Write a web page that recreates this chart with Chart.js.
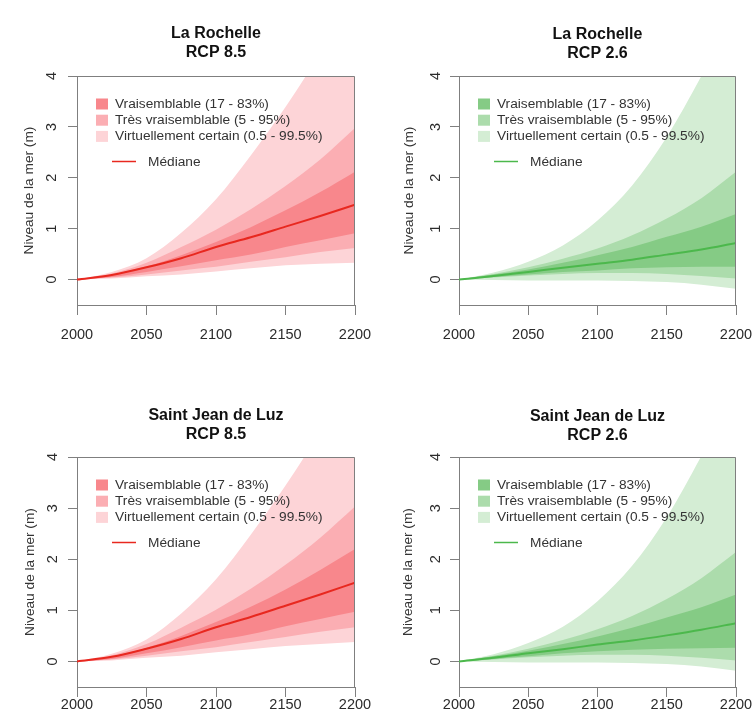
<!DOCTYPE html>
<html lang="fr">
<head>
<meta charset="UTF-8">
<title>Niveau de la mer - La Rochelle / Saint Jean de Luz</title>
<script src="https://cdn.jsdelivr.net/npm/chart.js"></script>
<style>
  body { margin: 0; background: #fff; }
  .panel { position: absolute; width: 376px; height: 360px; }
</style>
</head>
<body>
<div class="panel" style="left:0;top:0"><canvas id="c1" width="376" height="360"></canvas></div>
<div class="panel" style="left:376px;top:0"><canvas id="c2" width="376" height="360"></canvas></div>
<div class="panel" style="left:0;top:360px"><canvas id="c3" width="376" height="360"></canvas></div>
<div class="panel" style="left:376px;top:360px"><canvas id="c4" width="376" height="360"></canvas></div>
<script>
const years = [2000, 2025, 2050, 2075, 2100, 2125, 2150, 2175, 2200];
const xTicks = [2000, 2050, 2100, 2150, 2200];
const yTicks = [0, 1, 2, 3, 4];
const bandLabels = ['Vraisemblable (17 - 83%)', 'Très vraisemblable (5 - 95%)', 'Virtuellement certain (0.5 - 99.5%)'];
const medianLabel = 'Médiane';

// La Rochelle RCP 8.5
const lr85Median = [0, 0.09, 0.24, 0.42, 0.64, 0.83, 1.04, 1.25, 1.47];
const lr85DarkUp = [0, 0.10, 0.26, 0.48, 0.74, 1.03, 1.36, 1.72, 2.12];
const lr85DarkLo = [0, 0.05, 0.15, 0.26, 0.38, 0.49, 0.64, 0.77, 0.91];
const lr85MidUp = [0, 0.12, 0.33, 0.64, 0.98, 1.38, 1.84, 2.36, 2.98];
const lr85MidLo = [0, 0.04, 0.10, 0.18, 0.25, 0.35, 0.44, 0.54, 0.62];
const lr85LightUp = [0, 0.15, 0.42, 0.92, 1.58, 2.44, 3.39, 4.45, 5.6];
const lr85LightLo = [0, 0.02, 0.065, 0.10, 0.16, 0.22, 0.28, 0.31, 0.33];

// La Rochelle RCP 2.6
const lr26Median = [0, 0.07, 0.15, 0.23, 0.31, 0.39, 0.49, 0.59, 0.72];
const lr26DarkUp = [0, 0.10, 0.20, 0.33, 0.48, 0.64, 0.84, 1.04, 1.29];
const lr26DarkLo = [0, 0.05, 0.10, 0.15, 0.18, 0.22, 0.24, 0.25, 0.25];
const lr26MidUp = [0, 0.11, 0.24, 0.41, 0.61, 0.87, 1.20, 1.60, 2.12];
const lr26MidLo = [0, 0.04, 0.08, 0.11, 0.13, 0.13, 0.11, 0.07, 0.02];
const lr26LightUp = [0, 0.14, 0.35, 0.67, 1.16, 1.85, 2.8, 4.0, 5.3];
const lr26LightLo = [0, -0.01, -0.02, -0.02, -0.02, -0.03, -0.05, -0.10, -0.18];

// Saint Jean de Luz RCP 8.5
const sj85Median = [0, 0.09, 0.25, 0.44, 0.67, 0.87, 1.09, 1.31, 1.54];
const sj85DarkUp = [0, 0.10, 0.27, 0.50, 0.77, 1.07, 1.41, 1.79, 2.2];
const sj85DarkLo = [0, 0.05, 0.16, 0.28, 0.41, 0.53, 0.69, 0.83, 0.97];
const sj85MidUp = [0, 0.12, 0.34, 0.66, 1.01, 1.42, 1.89, 2.42, 3.03];
const sj85MidLo = [0, 0.04, 0.11, 0.20, 0.28, 0.38, 0.48, 0.58, 0.67];
const sj85LightUp = [0, 0.15, 0.43, 0.94, 1.61, 2.48, 3.44, 4.5, 5.65];
const sj85LightLo = [0, 0.02, 0.07, 0.11, 0.18, 0.24, 0.30, 0.34, 0.38];

// Saint Jean de Luz RCP 2.6
const sj26Median = [0, 0.07, 0.16, 0.24, 0.33, 0.41, 0.51, 0.62, 0.75];
const sj26DarkUp = [0, 0.10, 0.21, 0.34, 0.49, 0.66, 0.86, 1.06, 1.31];
const sj26DarkLo = [0, 0.05, 0.10, 0.16, 0.20, 0.23, 0.25, 0.26, 0.27];
const sj26MidUp = [0, 0.11, 0.25, 0.42, 0.63, 0.89, 1.22, 1.63, 2.14];
const sj26MidLo = [0, 0.04, 0.08, 0.11, 0.13, 0.13, 0.11, 0.07, 0.02];
const sj26LightUp = [0, 0.14, 0.36, 0.68, 1.18, 1.87, 2.82, 4.02, 5.3];
const sj26LightLo = [0, -0.01, -0.02, -0.02, -0.02, -0.03, -0.05, -0.10, -0.18];

const red = { median: '#e8281f', dark: '#f8878c', mid: '#fbaeb3', light: '#fdd4d7' };
const green = { median: '#4cb84c', dark: '#85cb85', mid: '#acdcac', light: '#d4edd4' };

const FONT = '"Liberation Sans", Arial, sans-serif';
const AXIS = '#7f7f7f';
const W = 376, H = 360;

function pts(arr) {
  return years.map((x, i) => ({ x: x, y: arr[i] }));
}

function band(label, arr, color, fillTo, order) {
  return {
    label: label, data: pts(arr), backgroundColor: color, borderWidth: 0,
    pointRadius: 0, cubicInterpolationMode: 'monotone', fill: fillTo, order: order
  };
}

// top and right sides of the box
const boxPlugin = {
  id: 'box',
  afterDatasetsDraw(chart) {
    const a = chart.chartArea, ctx = chart.ctx;
    const t = Math.round(a.top) + 0.5, r = Math.round(a.right) - 0.5;
    ctx.save();
    ctx.strokeStyle = AXIS;
    ctx.lineWidth = 1;
    ctx.beginPath();
    ctx.moveTo(a.left, t);
    ctx.lineTo(r, t);
    ctx.lineTo(r, a.bottom);
    ctx.stroke();
    ctx.restore();
  }
};

// legend drawn inside the plot, top-left
const legendPlugin = {
  id: 'innerLegend',
  afterDraw(chart) {
    const a = chart.chartArea, ctx = chart.ctx, ds = chart.data.datasets;
    ctx.save();
    ctx.font = '13.7px ' + FONT;
    ctx.textBaseline = 'middle';
    [1, 3, 5].forEach((idx, i) => {
      const cy = a.top + 28 + i * 16.2;
      ctx.fillStyle = ds[idx].backgroundColor;
      ctx.fillRect(a.left + 19, cy - 5.5, 12, 11);
      ctx.fillStyle = '#333';
      ctx.fillText(ds[idx].label, a.left + 38, cy);
    });
    const my = a.top + 85.5;
    ctx.strokeStyle = ds[0].borderColor;
    ctx.lineWidth = 1.5;
    ctx.beginPath();
    ctx.moveTo(a.left + 35, my);
    ctx.lineTo(a.left + 59, my);
    ctx.stroke();
    ctx.fillStyle = '#333';
    ctx.fillText(ds[0].label, a.left + 71, my + 0.5);
    ctx.restore();
  }
};

function makeChart(id, p) {
  const xh = H - p.B;
  const lh = 18.4;
  const titleTop = p.t1 - lh / 2;
  new Chart(document.getElementById(id), {
    type: 'line',
    data: {
      datasets: [
        { label: medianLabel, data: pts(p.median), borderColor: p.col.median, borderWidth: 2,
          pointRadius: 0, cubicInterpolationMode: 'monotone', fill: false, order: 0 },
        band(bandLabels[0], p.darkUp, p.col.dark, 2, 1),
        band(bandLabels[0] + ' bas', p.darkLo, p.col.dark, false, 1),
        band(bandLabels[1], p.midUp, p.col.mid, 4, 2),
        band(bandLabels[1] + ' bas', p.midLo, p.col.mid, false, 2),
        band(bandLabels[2], p.lightUp, p.col.light, 6, 3),
        band(bandLabels[2] + ' bas', p.lightLo, p.col.light, false, 3)
      ]
    },
    options: {
      responsive: false,
      animation: false,
      events: [],
      layout: { padding: { left: 0, top: 0, right: W - p.R, bottom: 0 } },
      plugins: {
        legend: { display: false },
        tooltip: { enabled: false },
        title: {
          display: true, text: p.title, color: '#111', fullSize: false,
          font: { family: FONT, size: 16, weight: 'bold', lineHeight: 1.15 },
          padding: { top: titleTop, bottom: p.T - titleTop - 2 * lh }
        }
      },
      scales: {
        x: {
          type: 'linear', min: 2000, max: 2200,
          afterBuildTicks: s => { s.ticks = xTicks.map(v => ({ value: v })); },
          afterFit: s => { s.height = xh; s.paddingLeft = 0; s.paddingRight = 0; },
          ticks: { autoSkip: false, maxRotation: 0, padding: p.xPad, color: '#2b2b2b',
                   font: { family: FONT, size: 14.5 }, callback: v => String(v) },
          grid: { drawOnChartArea: false, drawTicks: true, tickLength: 10, tickColor: AXIS },
          border: { display: true, color: AXIS, width: 1 }
        },
        y: {
          type: 'linear', min: -0.5, max: 4,
          afterBuildTicks: s => { s.ticks = yTicks.map(v => ({ value: v })); },
          afterFit: s => { s.width = p.L; s.paddingTop = 0; s.paddingBottom = 0; },
          ticks: { minRotation: 90, maxRotation: 90, crossAlign: 'center', padding: p.yPad,
                   color: '#2b2b2b', font: { family: FONT, size: 14.5 }, callback: v => String(v) },
          grid: { drawOnChartArea: false, drawTicks: true, tickLength: 9, tickColor: AXIS },
          border: { display: true, color: AXIS, width: 1 },
          title: { display: true, text: 'Niveau de la mer (m)', color: '#333',
                   font: { family: FONT, size: 13.7, lineHeight: 1.2 },
                   padding: { top: p.yTitleX - 8.2, bottom: 0 } }
        }
      }
    },
    plugins: [boxPlugin, legendPlugin]
  });
}

makeChart('c1', { title: ['La Rochelle', 'RCP 8.5'], col: red,
  median: lr85Median, darkUp: lr85DarkUp, darkLo: lr85DarkLo, midUp: lr85MidUp, midLo: lr85MidLo,
  lightUp: lr85LightUp, lightLo: lr85LightLo,
  L: 77, R: 355, T: 76, B: 305, t1: 34, xPad: 11.5, yPad: 12, yTitleX: 29 });

makeChart('c2', { title: ['La Rochelle', 'RCP 2.6'], col: green,
  median: lr26Median, darkUp: lr26DarkUp, darkLo: lr26DarkLo, midUp: lr26MidUp, midLo: lr26MidLo,
  lightUp: lr26LightUp, lightLo: lr26LightLo,
  L: 83, R: 360, T: 76, B: 305, t1: 34.7, xPad: 11.5, yPad: 10, yTitleX: 33 });

makeChart('c3', { title: ['Saint Jean de Luz', 'RCP 8.5'], col: red,
  median: sj85Median, darkUp: sj85DarkUp, darkLo: sj85DarkLo, midUp: sj85MidUp, midLo: sj85MidLo,
  lightUp: sj85LightUp, lightLo: sj85LightLo,
  L: 77, R: 355, T: 97, B: 327, t1: 56, xPad: -0.7, yPad: 11, yTitleX: 30 });

makeChart('c4', { title: ['Saint Jean de Luz', 'RCP 2.6'], col: green,
  median: sj26Median, darkUp: sj26DarkUp, darkLo: sj26DarkLo, midUp: sj26MidUp, midLo: sj26MidLo,
  lightUp: sj26LightUp, lightLo: sj26LightLo,
  L: 83, R: 360, T: 97, B: 327, t1: 56.7, xPad: -0.7, yPad: 10, yTitleX: 32 });
</script>
</body>
</html>
